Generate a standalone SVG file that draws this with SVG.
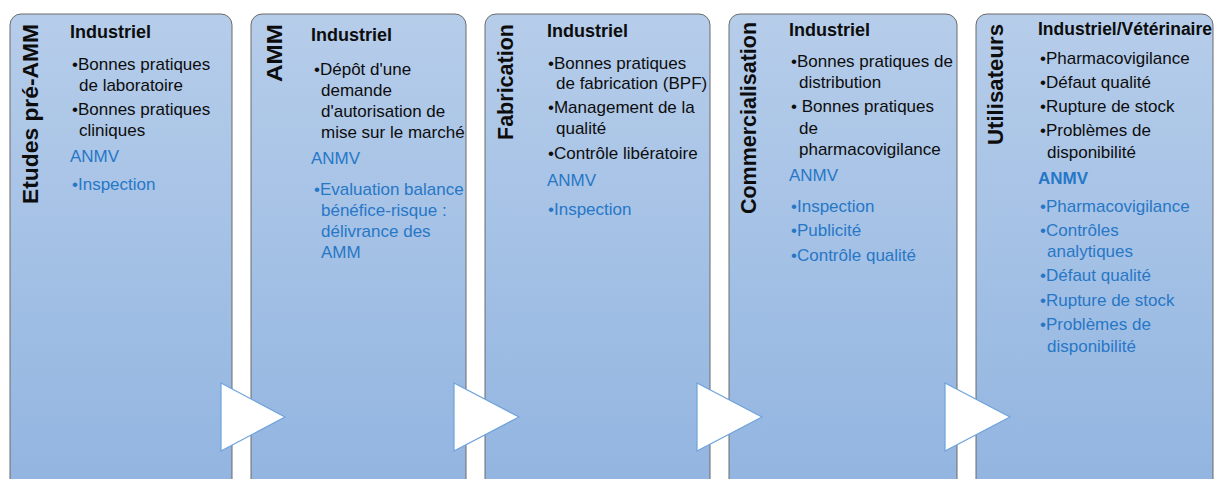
<svg xmlns="http://www.w3.org/2000/svg" width="1215" height="479" viewBox="0 0 1215 479">
<style>
.box{fill:url(#g);stroke:#6b6b6b;stroke-width:1}
.ttl{font-family:"Liberation Sans",Arial,sans-serif;font-weight:bold;font-size:22px;fill:#0d0d0d;text-anchor:end}
.h{font-family:"Liberation Sans",Arial,sans-serif;font-weight:bold;font-size:18px;fill:#0d0d0d}
.t{font-family:"Liberation Sans",Arial,sans-serif;font-size:17px;fill:#0d0d0d}
.b{font-family:"Liberation Sans",Arial,sans-serif;font-size:17px;fill:#2777c7}
.bb{font-family:"Liberation Sans",Arial,sans-serif;font-size:17px;font-weight:bold;fill:#2777c7}
.arr{fill:#ffffff;stroke:#6fa3dc;stroke-width:1.2}
</style>
<defs>
<linearGradient id="g" x1="0" y1="0" x2="0" y2="1">
<stop offset="0" stop-color="#b6cdea"/>
<stop offset="1" stop-color="#91b4e0"/>
</linearGradient>
</defs>
<rect width="1215" height="479" fill="#ffffff"/>

<g id="node-etudes">
<rect class="box" x="10" y="14" width="222" height="485" rx="11"/>
<text class="ttl" transform="translate(38,24) rotate(-90)" textLength="180" lengthAdjust="spacingAndGlyphs">Etudes pré-AMM</text>
<text class="h" x="70" y="38">Industriel</text>
<text class="t" x="72" y="70">•Bonnes pratiques</text>
<text class="t" x="79" y="91">de laboratoire</text>
<text class="t" x="72" y="115">•Bonnes pratiques</text>
<text class="t" x="79" y="136">cliniques</text>
<text class="b" x="70" y="162">ANMV</text>
<text class="b" x="72" y="190">•Inspection</text>
</g>

<g id="node-amm">
<rect class="box" x="251" y="14" width="215" height="485" rx="11"/>
<text class="ttl" transform="translate(282,24) rotate(-90)" textLength="58" lengthAdjust="spacingAndGlyphs">AMM</text>
<text class="h" x="311" y="41">Industriel</text>
<text class="t" x="314" y="75">•Dépôt d'une</text>
<text class="t" x="321" y="96">demande</text>
<text class="t" x="321" y="117">d'autorisation de</text>
<text class="t" x="321" y="138">mise sur le marché</text>
<text class="b" x="311" y="164">ANMV</text>
<text class="b" x="314" y="195">•Evaluation balance</text>
<text class="b" x="321" y="216">bénéfice-risque :</text>
<text class="b" x="321" y="237">délivrance des</text>
<text class="b" x="321" y="258">AMM</text>
</g>

<g id="node-fabrication">
<rect class="box" x="485" y="14" width="225" height="485" rx="11"/>
<text class="ttl" transform="translate(513,24) rotate(-90)" textLength="116" lengthAdjust="spacingAndGlyphs">Fabrication</text>
<text class="h" x="547" y="37">Industriel</text>
<text class="t" x="548" y="69">•Bonnes pratiques</text>
<text class="t" x="556" y="89">de fabrication (BPF)</text>
<text class="t" x="548" y="113">•Management de la</text>
<text class="t" x="556" y="134">qualité</text>
<text class="t" x="548" y="159">•Contrôle libératoire</text>
<text class="b" x="547" y="186">ANMV</text>
<text class="b" x="548" y="215">•Inspection</text>
</g>

<g id="node-commercialisation">
<rect class="box" x="729" y="14" width="228" height="485" rx="11"/>
<text class="ttl" transform="translate(756,22) rotate(-90)" textLength="192" lengthAdjust="spacingAndGlyphs">Commercialisation</text>
<text class="h" x="789" y="36">Industriel</text>
<text class="t" x="791" y="67">•Bonnes pratiques de</text>
<text class="t" x="799" y="88">distribution</text>
<text class="t" x="791" y="112">• Bonnes pratiques</text>
<text class="t" x="799" y="134">de</text>
<text class="t" x="799" y="155">pharmacovigilance</text>
<text class="b" x="789" y="181">ANMV</text>
<text class="b" x="791" y="212">•Inspection</text>
<text class="b" x="791" y="236">•Publicité</text>
<text class="b" x="791" y="261">•Contrôle qualité</text>
</g>

<g id="node-utilisateurs">
<rect class="box" x="976" y="14" width="237" height="485" rx="11"/>
<text class="ttl" transform="translate(1003,24) rotate(-90)" textLength="121" lengthAdjust="spacingAndGlyphs">Utilisateurs</text>
<text class="h" x="1038" y="35" textLength="174" lengthAdjust="spacingAndGlyphs">Industriel/Vétérinaire</text>
<text class="t" x="1040" y="64">•Pharmacovigilance</text>
<text class="t" x="1040" y="88">•Défaut qualité</text>
<text class="t" x="1040" y="112">•Rupture de stock</text>
<text class="t" x="1040" y="136">•Problèmes de</text>
<text class="t" x="1047" y="158">disponibilité</text>
<text class="bb" x="1038" y="184">ANMV</text>
<text class="b" x="1040" y="212">•Pharmacovigilance</text>
<text class="b" x="1040" y="236">•Contrôles</text>
<text class="b" x="1047" y="257">analytiques</text>
<text class="b" x="1040" y="281">•Défaut qualité</text>
<text class="b" x="1040" y="306">•Rupture de stock</text>
<text class="b" x="1040" y="330">•Problèmes de</text>
<text class="b" x="1047" y="352">disponibilité</text>
</g>

<g id="connectors">
<polygon class="arr" points="221,383 285,417 221,451"/>
<polygon class="arr" points="454,383 519,417 454,451"/>
<polygon class="arr" points="697,383 762,417 697,451"/>
<polygon class="arr" points="945,383 1010,417 945,451"/>
</g>
</svg>
